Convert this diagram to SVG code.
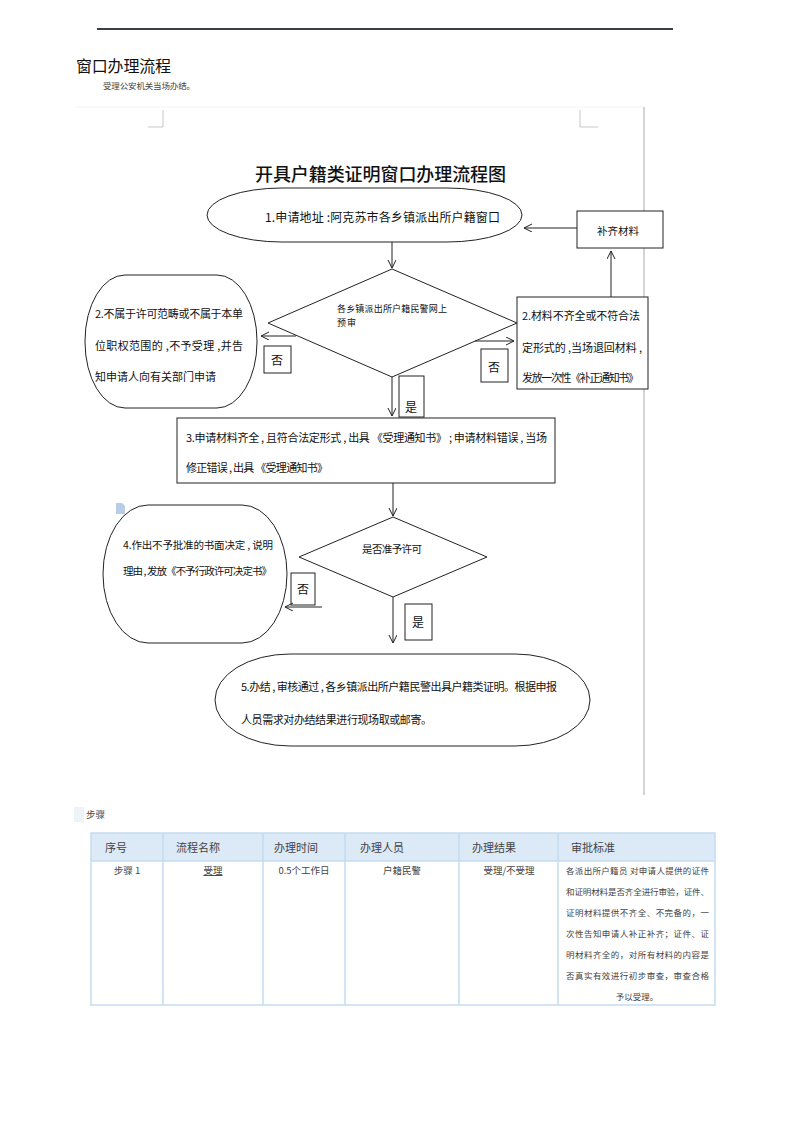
<svg xmlns="http://www.w3.org/2000/svg" width="793" height="1122" viewBox="0 0 793 1122">
<defs>
<marker id="arr" markerWidth="10" markerHeight="10" refX="8" refY="4" orient="auto" markerUnits="userSpaceOnUse">
<path d="M0,0 L8,4 L0,8" fill="none" stroke="#222" stroke-width="1"/>
</marker>
<style>
.t{font-family:"Microsoft YaHei","Noto Sans CJK SC",sans-serif;fill:#111}
.s{font-family:"Noto Sans CJK SC",sans-serif;fill:#444}
.n{fill:#fff;stroke:#222;stroke-width:1}
.c{fill:none;stroke:#222;stroke-width:1}
.tb{fill:none;stroke:#c5dcf0;stroke-width:1.5}
</style>
</defs>
<rect width="793" height="1122" fill="#fff"/>
<line x1="97" y1="29" x2="673" y2="29" stroke="#3a3f44" stroke-width="2"/>
<text class="t" x="76" y="72" font-size="16" textLength="95">窗口办理流程</text>
<text class="s" x="103" y="89" font-size="8.5" fill="#555" textLength="92">受理公安机关当场办结。</text>
<g id="frame">
<line x1="75" y1="107" x2="645" y2="107" stroke="#f4f4f4" stroke-width="1"/>
<line x1="644" y1="107" x2="644" y2="795" stroke="#d4d4d4" stroke-width="2"/>
<polyline points="163,110 163,127 148,127" fill="none" stroke="#c8c8c8" stroke-width="1"/>
<polyline points="580,110 580,127 598,127" fill="none" stroke="#c8c8c8" stroke-width="1"/>
<path d="M116,503 h6 l3,3 v8 h-9 z" fill="#b9cde6"/>
</g>
<text class="t" x="255" y="181" font-size="18" font-weight="500" textLength="251">开具户籍类证明窗口办理流程图</text>
<g id="n1"><rect class="n" x="207" y="188" width="315" height="54" rx="75" ry="27"/>
<text class="t" x="265" y="222" font-size="12" textLength="235">1.申请地址 :阿克苏市各乡镇派出所户籍窗口</text></g>
<g id="bq"><rect class="n" x="577" y="211" width="86" height="37"/>
<text class="t" x="597" y="235" font-size="10.5" textLength="42">补齐材料</text></g>
<g id="d1"><polygon class="n" points="392,269 517,323 392,377 268,323"/>
<text class="t" x="337" y="312" font-size="9" textLength="110">各乡镇派出所户籍民警网上</text>
<text class="t" x="337" y="326" font-size="9" textLength="19">预审</text></g>
<g id="n2l"><rect class="n" x="85" y="275" width="172" height="133" rx="40" ry="66"/>
<text class="t" x="95" y="318" font-size="11" textLength="148">2.不属于许可范畴或不属于本单</text>
<text class="t" x="95" y="350" font-size="11" textLength="148">位职权范围的 ,不予受理 ,并告</text>
<text class="t" x="95" y="381" font-size="11" textLength="121">知申请人向有关部门申请</text></g>
<g id="n2r"><rect class="n" x="517" y="297" width="131" height="92"/>
<text class="t" x="522" y="320" font-size="11" textLength="118">2.材料不齐全或不符合法</text>
<text class="t" x="522" y="352" font-size="11" textLength="120">定形式的 ,当场退回材料 ,</text>
<text class="t" x="522" y="382" font-size="11" textLength="117">发放一次性《补正通知书》</text></g>
<g id="n3"><rect class="n" x="177" y="418" width="378" height="65"/>
<text class="t" x="186" y="442" font-size="11" textLength="361">3.申请材料齐全 , 且符合法定形式 , 出具 《受理通知书》 ; 申请材料错误 , 当场</text>
<text class="t" x="186" y="472" font-size="11" textLength="142">修正错误 , 出具 《受理通知书》</text></g>
<g id="d2"><polygon class="n" points="393,517 487,557 393,597 299,557"/>
<text class="t" x="362" y="553" font-size="10.5" textLength="60">是否准予许可</text></g>
<g id="n4"><rect class="n" x="103" y="505" width="184" height="138" rx="45" ry="69"/>
<text class="t" x="123" y="549" font-size="10.5" textLength="150">4.作出不予批准的书面决定 , 说明</text>
<text class="t" x="123" y="575" font-size="10.5" textLength="149">理由 , 发放《不予行政许可决定书》</text></g>
<g id="n5"><rect class="n" x="215" y="654" width="375" height="92" rx="75" ry="46"/>
<text class="t" x="241" y="691" font-size="11" textLength="316">5.办结 , 审核通过 , 各乡镇派出所户籍民警出具户籍类证明。根据申报</text>
<text class="t" x="241" y="724" font-size="11" textLength="191">人员需求对办结结果进行现场取或邮寄。</text></g>
<g id="labels">
<rect class="n" x="399" y="376" width="25" height="41"/><text class="t" x="405" y="412" font-size="12">是</text>
<rect class="n" x="264" y="346" width="27" height="27"/><text class="t" x="271" y="365" font-size="12">否</text>
<rect class="n" x="481" y="349" width="27" height="33"/><text class="t" x="488" y="372" font-size="12">否</text>
<rect class="n" x="291" y="573" width="24" height="32"/><text class="t" x="297" y="594" font-size="12">否</text>
<rect class="n" x="405" y="604" width="27" height="36"/><text class="t" x="412" y="627" font-size="12">是</text>
</g>
<g id="connectors">
<line class="c" x1="392" y1="242" x2="392" y2="268" marker-end="url(#arr)"/>
<line class="c" x1="296" y1="336" x2="261" y2="336" marker-end="url(#arr)"/>
<line class="c" x1="475" y1="341" x2="514" y2="341" marker-end="url(#arr)"/>
<line class="c" x1="392" y1="377" x2="392" y2="416" marker-end="url(#arr)"/>
<line class="c" x1="611" y1="297" x2="611" y2="251" marker-end="url(#arr)"/>
<line class="c" x1="577" y1="228" x2="524" y2="228" marker-end="url(#arr)"/>
<line class="c" x1="393" y1="483" x2="393" y2="516" marker-end="url(#arr)"/>
<line class="c" x1="322" y1="607" x2="285" y2="607" marker-end="url(#arr)"/>
<line class="c" x1="393" y1="597" x2="393" y2="643" marker-end="url(#arr)"/>
</g>
<rect x="74" y="807" width="10" height="15" fill="#eef3f8"/>
<text class="s" x="86" y="818" font-size="9.5" fill="#666">步骤</text>
<g id="table">
<rect x="91" y="833" width="624" height="28" fill="#dce9f6"/>
<rect class="tb" x="91" y="833" width="624" height="172"/>
<line class="tb" x1="91" y1="861" x2="715" y2="861"/>
<line class="tb" x1="163" y1="833" x2="163" y2="1005"/>
<line class="tb" x1="263" y1="833" x2="263" y2="1005"/>
<line class="tb" x1="345" y1="833" x2="345" y2="1005"/>
<line class="tb" x1="459" y1="833" x2="459" y2="1005"/>
<line class="tb" x1="558" y1="833" x2="558" y2="1005"/>
<g font-size="11" class="s">
<text class="s" x="105" y="852">序号</text>
<text class="s" x="176" y="852">流程名称</text>
<text class="s" x="274" y="852">办理时间</text>
<text class="s" x="360" y="852">办理人员</text>
<text class="s" x="472" y="852">办理结果</text>
<text class="s" x="571" y="852">审批标准</text>
</g>
<g font-size="9.5" class="s" text-anchor="middle">
<text class="s" x="127" y="874">步骤 1</text>
<text class="s" x="213" y="874" text-decoration="underline">受理</text>
<text class="s" x="304" y="874">0.5个工作日</text>
<text class="s" x="402" y="874">户籍民警</text>
<text class="s" x="509" y="874">受理/不受理</text>
</g>
<g font-size="8.5" class="s">
<text class="s" x="566" y="874" textLength="143">各派出所户籍员 对申请人提供的证件</text>
<text class="s" x="566" y="895" textLength="143">和证明材料是否齐全进行审验，证件、</text>
<text class="s" x="566" y="916" textLength="143">证明材料提供不齐全、不完备的，一</text>
<text class="s" x="566" y="937" textLength="143">次性告知申请人补正补齐；证件、证</text>
<text class="s" x="566" y="958" textLength="143">明材料齐全的，对所有材料的内容是</text>
<text class="s" x="566" y="979" textLength="143">否真实有效进行初步审查，审查合格</text>
<text class="s" x="637" y="1000" text-anchor="middle">予以受理。</text>
</g>
</g>
</svg>
